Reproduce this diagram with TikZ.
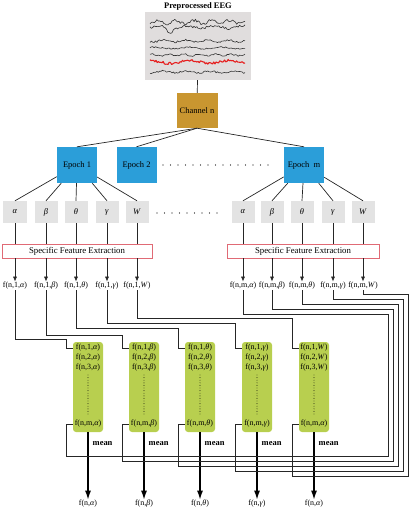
\documentclass[tikz,border=0pt]{standalone}
\usepackage{fontspec}
\setmainfont{Liberation Serif}
\usetikzlibrary{arrows.meta}
\definecolor{epochblue}{RGB}{43,158,217}
\definecolor{chanbrown}{RGB}{201,150,48}
\definecolor{bandgray}{RGB}{227,227,227}
\definecolor{greenbg}{RGB}{184,207,79}
\definecolor{sfered}{RGB}{224,106,117}
\definecolor{eeggray}{RGB}{224,221,221}
\definecolor{eegred}{RGB}{230,30,30}
\newcommand{\gk}[1]{\textit{#1}}
\begin{document}
\begin{tikzpicture}[x=1bp,y=-1bp,
  every node/.style={font=\fontsize{8}{9}\selectfont, inner sep=0.5bp},
  conn/.style={draw=black!85, line width=0.7bp},
  epochbox/.style={fill=epochblue, minimum width=40bp, minimum height=36bp, font=\fontsize{8.5}{9}\selectfont},
  bandbox/.style={fill=bandgray, minimum width=23bp, minimum height=22bp, font=\fontsize{8.5}{9}\selectfont},
  sfebox/.style={draw=sfered, line width=0.8bp, fill=white, minimum height=14bp, font=\fontsize{8.8}{9}\selectfont},
  greenbox/.style={fill=greenbg, rounded corners=3bp, minimum width=30bp, minimum height=90bp},
  arr/.style={conn, -{Latex[length=5bp,width=4bp]}},
  meanarr/.style={draw=black, line width=1.3bp, -{Latex[length=9bp,width=6bp]}},
  meanlab/.style={font=\fontsize{8.5}{9}\selectfont\bfseries, anchor=west},
  dotrow/.style={line width=1.2bp, line cap=round, dash pattern=on 0bp off 7.5bp},
  vdots/.style={line width=0.9bp, line cap=round, dash pattern=on 0bp off 2.6bp},
  eeg/.style={draw=black!80, line width=0.6bp, line join=round},
]
\useasboundingbox (0,0) rectangle (410,510);

% --- EEG panel
\node[font=\fontsize{8.5}{9}\selectfont\bfseries] (title) at (198,6) {Preprocessed EEG};
\node[fill=eeggray, minimum width=106bp, minimum height=68bp] (eeg) at (198,46) {};
\pgfmathsetseed{7}
\draw[eeg] plot[domain=150:245, samples=70, variable=\t] (\t, {22+1.8*sin(\t*20)+1.4*rand});
\draw[eeg] plot[domain=150:245, samples=70, variable=\t] (\t, {27+1.4*sin(\t*13)+1.2*rand+5*exp(-((\t-170)/4)^2)});
\draw[eeg] plot[domain=150:245, samples=70, variable=\t] (\t, {41+1.0*sin(\t*17)+0.9*rand});
\draw[eeg] plot[domain=150:245, samples=70, variable=\t] (\t, {48+0.8*sin(\t*11)+0.7*rand});
\draw[eeg] plot[domain=150:245, samples=70, variable=\t] (\t, {55+0.9*sin(\t*23)+0.7*rand});
\draw[eeg, draw=eegred, line width=1.1bp] plot[domain=150:245, samples=80, variable=\t] (\t, {62+1.4*sin(\t*9)+1.2*rand});
\draw[eeg] plot[domain=150:245, samples=70, variable=\t] (\t, {72+0.9*sin(\t*15)+0.9*rand});

% --- channel and epochs
\node[fill=chanbrown, minimum width=41bp, minimum height=35bp, font=\fontsize{8.5}{9}\selectfont] (ch) at (197,110.5) {Channel n};
\node[epochbox] (e1) at (77,165) {Epoch 1};
\node[epochbox] (e2) at (136.5,165) {Epoch 2};
\node[epochbox] (em) at (304,165) {Epoch\enspace m};
\draw[conn] (eeg) -- (ch);
\draw[conn] (ch.south) -- (e1.north);
\draw[conn] (ch.south) -- (e2.north);
\draw[conn] (ch.south) -- (em.north);
\draw[dotrow] (163,165) -- (270,165);
\draw[dotrow] (157,213) -- (222,213);

% --- feature extraction boxes
\node[sfebox, minimum width=150bp] (sfe1) at (77,251) {Specific Feature Extraction};
\node[sfebox, minimum width=152bp] (sfem) at (303,251) {Specific Feature Extraction};

% --- bands
\foreach \i/\x/\g in {1/15/α,2/46/β,3/76/θ,4/107/γ,5/137/W} {
  \node[bandbox] (b1\i) at (\x,212) {\gk{\g}};
  \node (l1\i) at (\x,286) {f(n,1,\gk{\g})};
  \draw[conn] (e1) -- (b1\i.north);
  \draw[conn] (b1\i.south) -- (b1\i.south |- sfe1.north);
  \draw[arr] (b1\i.south |- sfe1.south) -- (l1\i.north);
}
\foreach \i/\x/\g in {1/243/α,2/272/β,3/302/θ,4/333/γ,5/363/W} {
  \node[bandbox] (bm\i) at (\x,212) {\gk{\g}};
  \node (lm\i) at (\x,286) {f(n,m,\gk{\g})};
  \draw[conn] (em) -- (bm\i.north);
  \draw[conn] (bm\i.south) -- (bm\i.south |- sfem.north);
  \draw[arr] (bm\i.south |- sfem.south) -- (lm\i.north);
}

% --- green collection boxes
\foreach \i/\gx/\g/\h in {1/88/α/α,2/144/β/β,3/200/θ/θ,4/257/γ/γ,5/314/W/α} {
  \node[greenbox] (g\i) at (\gx,387) {};
  \node (r\i-1) at (\gx,348) {f(n,1,\gk{\g})};
  \node (r\i-2) at (\gx,358) {f(n,2,\gk{\g})};
  \node (r\i-3) at (\gx,368) {f(n,3,\gk{\g})};
  \node (r\i-m) at (\gx,424) {f(n,m,\gk{\h})};
  \draw[vdots] (\gx,375) -- (\gx,416);
  \node (o\i) at (\gx,504) {f(n,\gk{\h})};
  \draw[meanarr] (g\i.south) -- (o\i.north);
  \node[meanlab] (mean\i) at (\gx+4,444) {mean};
}

% --- routing from epoch 1 features to first rows
\foreach \i/\vx/\sy in {1/66/339,2/122/335,3/178/328,4/235/323,5/292/318} {
  \draw[conn] (l1\i.south) |- (\vx,\sy) |- (g\i.west |- r\i-1);
}
% --- routing from epoch m features to last rows
\foreach \i/\vx/\hy/\rx/\ry in {1/66/314/388/456,2/122/309/393/461,3/178/304/398/466,4/235/299/403/471,5/292/294/408/476} {
  \draw[conn] (lm\i.south) |- (\rx,\hy) |- (\vx,\ry) |- (g\i.west |- r\i-m);
}
\end{tikzpicture}
\end{document}
